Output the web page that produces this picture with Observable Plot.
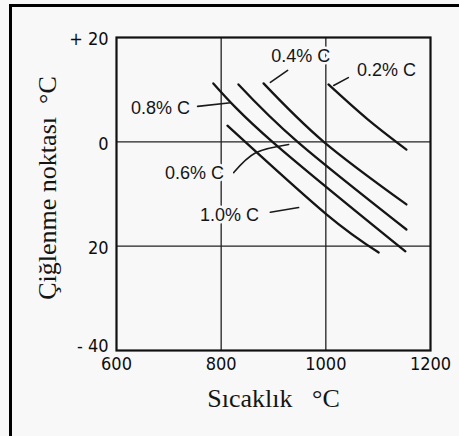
<!DOCTYPE html>
<html>
<head>
<meta charset="utf-8">
<script src="https://cdn.jsdelivr.net/npm/d3@7"></script>
<script src="https://cdn.jsdelivr.net/npm/@observablehq/plot@0.6"></script>
<style>
  html, body { margin: 0; padding: 0; background: #f8f8f9; }
  #wrap { position: relative; width: 459px; height: 436px; overflow: hidden; }
  #border { position: absolute; left: 9px; top: 4px; width: 470px; height: 460px;
            border-left: 3px solid #000; border-top: 3px solid #000; pointer-events: none; }
  g[aria-label="x-axis tick label"] text, g[aria-label="y-axis tick label"] text { font-stretch: condensed; }
</style>
</head>
<body>
<div id="wrap"><div id="chart"></div><div id="border"></div></div>
<script>
// Axis ticks
const xTicks = [600, 800, 1000, 1200];
const yTicks = [20, 0, -20, -40];
const yTickLabels = ["+ 20", "0", "20", "- 40"];
const xTitle = "Sıcaklık\u00a0\u00a0\u00a0°C";
const yTitle = "Çiğlenme noktası\u00a0\u00a0°C";

// Curves: temperature (°C) vs dew point (°C) for each carbon content
const series = ["0.2% C", "0.4% C", "0.6% C", "0.8% C", "1.0% C"];
const temp02 = [1005, 1080, 1154];
const dew02  = [11.0, 4.3, -1.5];
const temp04 = [881, 996, 1154];
const dew04  = [11.2, 0.0, -12.0];
const temp06 = [833, 946, 1154];
const dew06  = [11.0, 0.0, -16.8];
const temp08 = [785, 898, 1152];
const dew08  = [11.2, 0.0, -21.0];
const temp10 = [812, 1000, 1101];
const dew10  = [3.1, -13.8, -21.2];

// Label positions (data coords)
const labelX = [1116, 952, 749, 684, 816];
const labelY = [13.7, 16.4, -6.1, 6.4, -14.1];

// Leader lines from labels to curves
const leader02x = [1015, 1043];
const leader02y = [10.8, 12.3];
const leader04x = [894, 927];
const leader04y = [11.4, 13.7];
const leader06x = [824, 866, 929];
const leader06y = [-5.9, -2.1, -0.5];
const leader08x = [755, 818];
const leader08y = [6.8, 7.5];
const leader10x = [894, 948];
const leader10y = [-13.5, -12.6];

const curveX = [temp02, temp04, temp06, temp08, temp10];
const curveY = [dew02, dew04, dew06, dew08, dew10];
const curves = series.flatMap((s, i) => curveX[i].map((x, j) => ({series: s, x, y: curveY[i][j]})));

const leadX = [leader02x, leader04x, leader06x, leader08x, leader10x];
const leadY = [leader02y, leader04y, leader06y, leader08y, leader10y];
const leaders = series.flatMap((s, i) => leadX[i].map((x, j) => ({series: s, x, y: leadY[i][j]})));

const labels = series.map((s, i) => ({text: s, x: labelX[i], y: labelY[i]}));

const narrow = "'DejaVu Sans Condensed', 'DejaVu Sans', sans-serif";
const serif = "'Liberation Serif', 'DejaVu Serif', serif";
const sans = "'Liberation Sans', Arial, sans-serif";
const bg = "#f8f8f9";
const yFmt = d => yTickLabels[yTicks.indexOf(d)];

const chart = Plot.plot({
  width: 459,
  height: 436,
  marginLeft: 116,
  marginRight: 29,
  marginTop: 37,
  marginBottom: 86,
  style: {background: bg, color: "#111"},
  x: {domain: [600, 1200]},
  y: {domain: [-40, 20]},
  marks: [
    Plot.ruleX([800, 1000], {stroke: "#222", strokeWidth: 1.3}),
    Plot.ruleY([0, -20], {stroke: "#222", strokeWidth: 1.3}),
    Plot.frame({stroke: "#111", strokeWidth: 2.2}),
    Plot.axisX({ticks: xTicks, tickSize: 0, tickPadding: 7, label: null, ariaLabel: "x-axis tick label",
      fontSize: 18, fontFamily: narrow, fill: "#0d0d0d", tickFormat: d => String(d)}),
    Plot.axisY({ticks: yTicks.slice(0, 3), tickSize: 0, tickPadding: 8, label: null, dy: 2, ariaLabel: "y-axis tick label",
      fontSize: 18, fontFamily: narrow, fill: "#0d0d0d", tickFormat: yFmt}),
    Plot.axisY({ticks: yTicks.slice(3), tickSize: 0, tickPadding: 8, label: null, dy: -4, ariaLabel: "y-axis tick label",
      fontSize: 18, fontFamily: narrow, fill: "#0d0d0d", tickFormat: yFmt}),
    Plot.line(curves, {x: "x", y: "y", z: "series", stroke: "#151515", strokeWidth: 2.3, curve: "natural"}),
    Plot.text(labels, {x: "x", y: "y", text: "text", fontSize: 18, fontFamily: sans, fill: "#151515",
      stroke: bg, strokeWidth: 5, ariaLabel: "carbon-labels"}),
    Plot.line(leaders, {x: "x", y: "y", z: "series", stroke: "#1a1a1a", strokeWidth: 1.6, curve: "natural"}),
    Plot.text([xTitle], {text: d => d, frameAnchor: "bottom", lineAnchor: "middle", dy: 48,
      fontSize: 26, fontFamily: serif, fill: "#151515"}),
    Plot.text([yTitle], {text: d => d, frameAnchor: "left", textAnchor: "middle", lineAnchor: "middle",
      rotate: -90, dx: -69, dy: -6, fontSize: 26, fontFamily: serif, fill: "#151515"})
  ]
});
document.getElementById("chart").append(chart);
d3.select(chart).selectAll('g[aria-label="carbon-labels"] text').style("letter-spacing", "1.8px");
</script>
</body>
</html>
